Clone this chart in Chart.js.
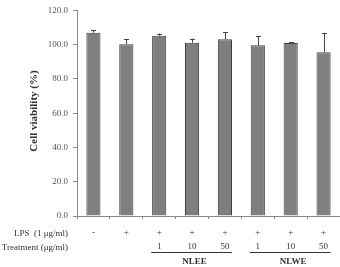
<!DOCTYPE html>
<html lang="en">
<head>
    <meta charset="UTF-8">
    <title>Cell viability</title>
    <script src="https://cdn.jsdelivr.net/npm/chart.js"></script>
    <style>
        html, body { margin: 0; padding: 0; background: #fff; }
        #wrap { width: 340px; height: 267px; }
    </style>
</head>
<body>
    <div id="wrap"><canvas id="grafico"></canvas></div>
<script>
    // dados
    var categorias = ['ctrl', 'LPS', 'NLEE 1', 'NLEE 10', 'NLEE 50', 'NLWE 1', 'NLWE 10', 'NLWE 50']
    var viabilidade = [107.0, 100.2, 105.2, 101.1, 103.1, 99.6, 100.9, 95.6]
    var erros = [1.6, 3.1, 1.3, 2.4, 4.2, 5.6, 0.6, 11.3]
    var sinaisLPS = ['-', '+', '+', '+', '+', '+', '+', '+']
    var doses = ['', '', '1', '10', '50', '1', '10', '50']
    var grupos = [
        { nome: 'NLEE', de: 2, ate: 4 },
        { nome: 'NLWE', de: 5, ate: 7 }
    ]

    const serif = "'Liberation Serif', 'DejaVu Serif', serif"

    const extras = {
        id: 'extras',
        afterDatasetsDraw(chart) {
            const ctx = chart.ctx
            const y = chart.scales.y
            const meta = chart.getDatasetMeta(0)

            // barras de erro (só para cima)
            ctx.save()
            ctx.strokeStyle = '#444'
            ctx.lineWidth = 1
            meta.data.forEach(function (bar, i) {
                const cx = Math.round(bar.x) + 0.5
                const yTop = y.getPixelForValue(viabilidade[i] + erros[i])
                ctx.beginPath()
                ctx.moveTo(cx, bar.y)
                ctx.lineTo(cx, yTop)
                ctx.moveTo(cx - 2.5, Math.round(yTop) + 0.5)
                ctx.lineTo(cx + 2.5, Math.round(yTop) + 0.5)
                ctx.stroke()
            })
            ctx.restore()
        },
        afterDraw(chart) {
            const ctx = chart.ctx
            const x = chart.scales.x
            ctx.save()
            ctx.fillStyle = '#333'
            ctx.strokeStyle = '#333'
            ctx.textBaseline = 'middle'

            // titulo do eixo y
            ctx.save()
            ctx.translate(34, 111)
            ctx.rotate(-Math.PI / 2)
            ctx.textAlign = 'center'
            ctx.font = 'bold 11px ' + serif
            ctx.fillText('Cell viability (%)', 0, 0)
            ctx.restore()

            ctx.font = '9px ' + serif
            ctx.textAlign = 'right'
            ctx.fillText('LPS  (1 \u03bcg/ml)', 68, 234)
            ctx.fillText('Treatment (\u03bcg/ml)', 68, 248)

            ctx.textAlign = 'center'
            categorias.forEach(function (c, i) {
                const px = x.getPixelForValue(i)
                ctx.fillText(sinaisLPS[i], px, 233)
                if (doses[i]) ctx.fillText(doses[i], px, 247)
            })

            ctx.lineWidth = 1
            ctx.font = 'bold 9px ' + serif
            grupos.forEach(function (g) {
                const x1 = x.getPixelForValue(g.de) - 8
                const x2 = x.getPixelForValue(g.ate) + 7
                ctx.beginPath()
                ctx.moveTo(x1, 252.5)
                ctx.lineTo(x2, 252.5)
                ctx.stroke()
                ctx.fillText(g.nome, (x1 + x2) / 2 + 3, 262)
            })
            ctx.restore()
        }
    }

    const ctx = document.getElementById('grafico').getContext('2d')
    const grafico = new Chart(ctx, {
        type: 'bar',
        data: {
            labels: categorias,
            datasets: [{
                data: viabilidade,
                backgroundColor: '#7f7f7f',
                borderColor: '#404040',
                borderWidth: 1,
                categoryPercentage: 1,
                barPercentage: 0.43
            }]
        },
        options: {
            responsive: true,
            maintainAspectRatio: false,
            animation: false,
            layout: {
                padding: { left: 0, right: 0, top: 5, bottom: 48 }
            },
            plugins: {
                legend: { display: false },
                tooltip: { enabled: false }
            },
            scales: {
                x: {
                    offset: true,
                    grid: {
                        offset: true,
                        drawOnChartArea: false,
                        tickLength: 3,
                        color: '#888'
                    },
                    border: { color: '#888' },
                    ticks: { display: false }
                },
                y: {
                    min: 0,
                    max: 120,
                    afterFit: function (scale) { scale.width = 77 },
                    ticks: {
                        stepSize: 20,
                        padding: 5,
                        color: '#555',
                        font: { family: serif, size: 9 },
                        callback: function (v) { return v.toFixed(1) }
                    },
                    grid: {
                        drawOnChartArea: false,
                        tickLength: 4,
                        color: '#888'
                    },
                    border: { color: '#888' }
                }
            }
        },
        plugins: [extras]
    })
</script>
</body>
</html>
